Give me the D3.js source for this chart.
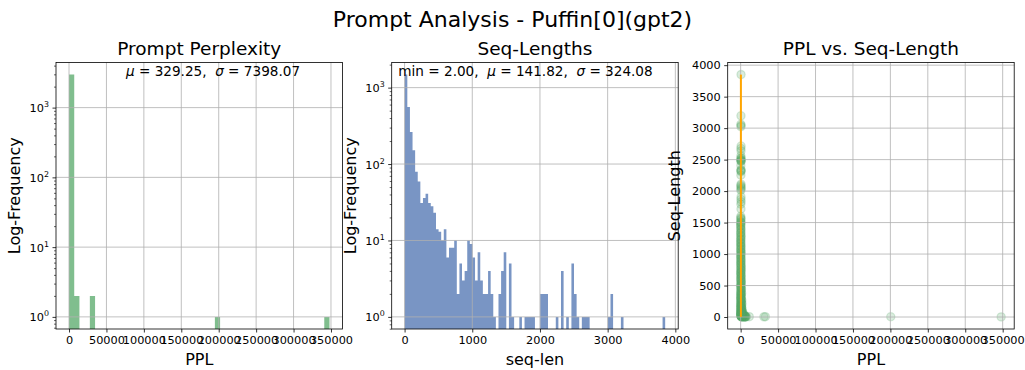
<!DOCTYPE html>
<html><head><meta charset="utf-8">
<script src="https://cdn.jsdelivr.net/npm/d3@7"></script>
<style>body{margin:0;background:#fff}svg text{font-family:"DejaVu Sans",sans-serif;fill:#000}</style>
</head><body><svg id="c" width="1025" height="370"></svg>
<script>
// ---------------- data ----------------
const suptitle = "Prompt Analysis - Puffin[0](gpt2)";
const panelTitles = ["Prompt Perplexity", "Seq-Lengths", "PPL vs. Seq-Length"];

const pplMin = 2, pplMax = 348000;      // 50 bins
const pplCounts = [2972,2,0,0,2,0,0,0,0,0, 0,0,0,0,0,0,0,0,0,0,
                   0,0,0,0,0,0,0,0,1,0, 0,0,0,0,0,0,0,0,0,0,
                   0,0,0,0,0,0,0,0,0,1];
const pplStats = {mu: "329.25", sigma: "7398.07"};
const pplMean = 329.25;

const seqMin = 2, seqMax = 3850;        // 100 bins
const seqCounts = [1480,557,263,152,79,59,31,36,41,31,
                   28,23,14,13,10,14,6,8,8,10,
                   2,5,3,4,10,9,6,3,7,3,
                   2,2,4,2,1,0,2,4,7,0,
                   5,1,0,0,1,0,1,1,1,1,
                   0,0,2,2,2,0,0,0,1,0,
                   4,0,1,0,5,2,1,0,1,1,
                   1,0,0,0,0,0,0,0,1,2,
                   0,0,0,1,0,0,0,0,0,0,
                   0,0,0,0,0,0,0,0,0,1];
const seqStats = {min: "2.00", mu: "141.82", sigma: "324.08"};

const pplTicks = [0,50000,100000,150000,200000,250000,300000,350000];
const seqTicks = [0,1000,2000,3000,4000];
const lenTicks = [0,500,1000,1500,2000,2500,3000,3500,4000];

// scatter: perplexity and sequence length of individual prompts
const scatterPPL = [5200,2400,850,6400,1500,3100,600,4200,1900,900,2800,350,1400,5200,700,2100,300,1100,3600,450,
  1700,250,900,2600,400,1200,200,650,1900,300,800,150,1300,420,220,950,180,600,300,1500,
  140,500,250,800,130,400,220,650,160,1100,280,120,500,200,900,150,350,120,600,190,
  420,110,260,800,140,330,100,500,170,260,120,650,200,110,380,150,240,90,450,160,
  120,300,180,95,260,130,210,100,380,140,230,110,170,320,130,260,150,210,
  3800,1200,5600,2900,6200,2200,4800,1300,3900,6800,4500,2600,5900,1700,
  7800,11500,31000,33000,200500,348000,
  420,260,610,340,510,280,450,700,390,220,530,310,480,260,650,370,290,540,310,720,
  420,260,380,600,330,470,280,560,350,600,240,410,520,
  900,1800,400,2500,700,1200,300,1600,500,2200,350,900,1400,250,700,1900,450,1100,200,600,
  1300,300,850,180,500,1000,260,700,150,400,900,220,550,140,350,750,190,480,120,300,
  650,160,420,110,280,540,130,360,100,240,460,150,320,95,210];
const scatterLen = [2,3,4,5,6,8,10,12,14,16,19,22,25,28,32,36,40,45,50,56,
  62,68,75,82,90,98,106,115,125,135,145,156,168,180,193,206,220,235,250,266,
  282,298,315,332,350,368,386,405,424,443,462,482,502,522,543,564,585,606,628,650,
  672,694,716,738,760,782,805,828,851,874,897,920,944,968,992,1016,1040,1064,1089,1114,
  1139,1165,1191,1218,1245,1272,1300,1328,1356,1385,1414,1443,1472,1490,1515,1545,1575,1600,
  2,3,4,6,9,11,15,20,30,3,5,7,2,12,
  4,6,3,5,4,2,
  1714,1791,1830,1868,1907,2010,2030,2050,2070,2090,2110,2253,2310,2320,2330,2340,2407,2470,2478,2485,
  2490,2500,2515,2528,2561,2638,2676,2715,3023,3042,3061,3196,3850,
  7,13,18,24,30,38,48,58,70,86,102,120,140,162,186,212,242,274,306,340,
  376,414,452,492,532,574,616,660,704,748,794,840,886,932,980,1028,1076,1126,1176,1230,
  1282,1340,1398,1452,1505,1560,24,44,66,94,130,174,228,290,360,440,520,610,700,790];

// ---------------- layout ----------------
const svg = d3.select("#c");
const GREEN = "#55a868", BLUE = "#4c72b0", GRID = "#b0b0b0";
const TOP = 62.5, BOT = 329, AW = 286.5;
const P = [56, 391.7, 727.7].map(x0 => ({x0, x1: x0 + AW, y0: TOP, y1: BOT}));

svg.append("text").attr("x", 512.5).attr("y", 27).attr("text-anchor", "middle")
  .attr("font-size", 22).text(suptitle);

function pad(lo, hi) { const m = 0.05 * (hi - lo); return [lo - m, hi + m]; }

function clip(id, p) {
  svg.append("clipPath").attr("id", id).append("rect")
    .attr("x", p.x0).attr("y", p.y0).attr("width", p.x1 - p.x0).attr("height", p.y1 - p.y0);
}

function frame(p, title, xlabel, ylabel, ylabelX) {
  svg.append("rect").attr("x", p.x0).attr("y", p.y0).attr("width", p.x1 - p.x0).attr("height", p.y1 - p.y0)
    .attr("fill", "none").attr("stroke", "#000").attr("stroke-width", 0.8);
  svg.append("text").attr("x", (p.x0 + p.x1) / 2).attr("y", 55).attr("text-anchor", "middle")
    .attr("font-size", 18.5).text(title);
  svg.append("text").attr("x", (p.x0 + p.x1) / 2).attr("y", 365).attr("text-anchor", "middle")
    .attr("font-size", 16).text(xlabel);
  svg.append("text").attr("transform", `translate(${ylabelX},${(p.y0 + p.y1) / 2}) rotate(-90)`)
    .attr("text-anchor", "middle").attr("font-size", 16).text(ylabel);
}

function xAxis(p, x, ticks) {
  const g = svg.append("g").attr("transform", `translate(0,${p.y1})`)
    .call(d3.axisBottom(x).tickValues(ticks).tickFormat(d3.format("d")).tickSize(3.5).tickPadding(3.5).tickSizeOuter(0));
  g.select(".domain").remove();
  g.selectAll("line").attr("stroke-width", 0.8);
  g.selectAll("text").attr("font-size", 11.3).attr("font-family", "DejaVu Sans");
}
function xGrid(p, x, ticks) {
  svg.append("g").selectAll("line").data(ticks).join("line")
    .attr("x1", d => x(d)).attr("x2", d => x(d)).attr("y1", p.y0).attr("y2", p.y1)
    .attr("stroke", GRID).attr("stroke-width", 0.8);
}
function yGrid(p, y, ticks) {
  svg.append("g").selectAll("line").data(ticks).join("line")
    .attr("y1", d => y(d)).attr("y2", d => y(d)).attr("x1", p.x0).attr("x2", p.x1)
    .attr("stroke", GRID).attr("stroke-width", 0.8);
}

function logYAxis(p, y) {
  const [a, b] = y.domain();
  const majors = [], minors = [];
  for (let k = -2; k <= 5; k++) {
    const v = Math.pow(10, k);
    if (v >= a && v <= b) majors.push({v, k});
    for (let j = 2; j <= 9; j++) { const m = j * v; if (m >= a && m <= b) minors.push(m); }
  }
  const g = svg.append("g").attr("transform", `translate(${p.x0},0)`);
  g.call(d3.axisLeft(y).tickValues(majors.map(d => d.v)).tickFormat("").tickSize(3.5).tickSizeOuter(0));
  g.select(".domain").remove();
  g.selectAll("line").attr("stroke-width", 0.8);
  const g2 = svg.append("g").attr("transform", `translate(${p.x0},0)`);
  g2.call(d3.axisLeft(y).tickValues(minors).tickFormat("").tickSize(2).tickSizeOuter(0));
  g2.select(".domain").remove();
  g2.selectAll("line").attr("stroke-width", 0.6);
  majors.forEach(d => {
    const t = svg.append("text").attr("x", p.x0 - 7).attr("y", y(d.v) + 4.5)
      .attr("text-anchor", "end").attr("font-size", 11.3);
    t.append("tspan").text("10");
    t.append("tspan").attr("dy", -5).attr("font-size", 7.9).text(String(d.k));
  });
  return majors.map(d => d.v);
}

function hist(p, id, lo, hi, counts, color, ticks) {
  clip(id, p);
  const n = counts.length, w = (hi - lo) / n;
  const x = d3.scaleLinear().domain(pad(lo, hi)).range([p.x0, p.x1]);
  const m = Math.log10(d3.max(counts));
  const y = d3.scaleLog().domain([Math.pow(10, -0.05 * m), Math.pow(10, 1.05 * m)]).range([p.y1, p.y0]);
  // all bars as one path (avoids anti-aliasing seams between adjacent bars)
  const path = d3.path();
  counts.forEach((c, i) => {
    if (c <= 0) return;
    const xa = x(lo + i * w), xb = x(lo + (i + 1) * w), yt = y(c);
    path.rect(xa, yt, xb - xa, p.y1 + 2 - yt);
  });
  svg.append("path").attr("clip-path", `url(#${id})`).attr("d", path.toString())
    .attr("fill", color).attr("fill-opacity", 0.75);
  xGrid(p, x, ticks);
  const maj = logYAxis(p, y);
  yGrid(p, y, maj);
  xAxis(p, x, ticks);
  return {x, y};
}

function mathText(xc, y, parts) {
  const t = svg.append("text").attr("x", xc).attr("y", y).attr("text-anchor", "middle")
    .attr("font-size", 13.6).attr("xml:space", "preserve");
  parts.forEach(([s, it]) => t.append("tspan").attr("font-style", it ? "italic" : null).text(s));
}

// ---------------- panel 1 ----------------
hist(P[0], "c1", pplMin, pplMax, pplCounts, GREEN, pplTicks);
frame(P[0], panelTitles[0], "PPL", "Log-Frequency", 19.7);
mathText(213, 76, [["μ", 1], [" = " + pplStats.mu + ",  ", 0], ["σ", 1], [" = " + pplStats.sigma, 0]]);

// ---------------- panel 2 ----------------
hist(P[1], "c2", seqMin, seqMax, seqCounts, BLUE, seqTicks);
frame(P[1], panelTitles[1], "seq-len", "Log-Frequency", 355.5);
mathText(525.5, 76, [["min = " + seqStats.min + ",  ", 0], ["μ", 1], [" = " + seqStats.mu + ",  ", 0], ["σ", 1], [" = " + seqStats.sigma, 0]]);

// ---------------- panel 3 ----------------
{
  const p = P[2];
  clip("c3", p);
  const x = d3.scaleLinear().domain(pad(d3.min(scatterPPL), d3.max(scatterPPL))).range([p.x0, p.x1]);
  const y = d3.scaleLinear().domain(pad(d3.min(scatterLen), d3.max(scatterLen))).range([p.y1, p.y0]);
  const pts = scatterPPL.map((v, i) => [v, scatterLen[i]]);
  svg.append("g").attr("clip-path", "url(#c3)").selectAll("circle").data(pts).join("circle")
    .attr("cx", d => x(d[0])).attr("cy", d => y(d[1])).attr("r", 4.1)
    .attr("fill", GREEN).attr("fill-opacity", 0.22)
    .attr("stroke", GREEN).attr("stroke-opacity", 0.22).attr("stroke-width", 1.3);
  xGrid(p, x, pplTicks);
  yGrid(p, y, lenTicks);
  svg.append("line").attr("x1", x(pplMean)).attr("x2", x(pplMean))
    .attr("y1", y(seqMin)).attr("y2", y(seqMax))
    .attr("stroke", "#ffa500").attr("stroke-width", 2);
  xAxis(p, x, pplTicks);
  const g = svg.append("g").attr("transform", `translate(${p.x0},0)`)
    .call(d3.axisLeft(y).tickValues(lenTicks).tickFormat(d3.format("d")).tickSize(3.5).tickPadding(3.5).tickSizeOuter(0));
  g.select(".domain").remove();
  g.selectAll("line").attr("stroke-width", 0.8);
  g.selectAll("text").attr("font-size", 11.3).attr("font-family", "DejaVu Sans");
  frame(p, panelTitles[2], "PPL", "Seq-Length", 680);
}
</script></body></html>
